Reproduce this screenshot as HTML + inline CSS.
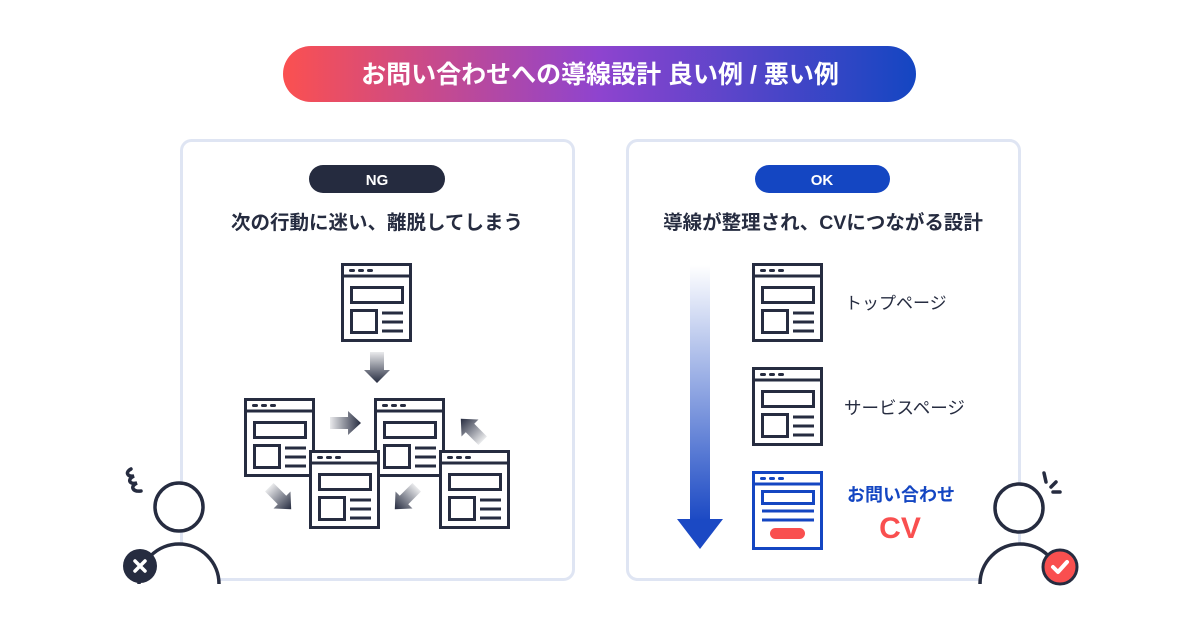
<!DOCTYPE html>
<html><head><meta charset="utf-8"><style>
html,body{margin:0;padding:0;background:#fff;}
svg{display:block;}
text{font-family:"Liberation Sans","Noto Sans CJK JP",sans-serif;}
</style></head><body>
<svg width="1200" height="630" viewBox="0 0 1200 630" xmlns="http://www.w3.org/2000/svg">
<defs>
<linearGradient id="tg" x1="0" x2="1" y1="0" y2="0">
<stop offset="0" stop-color="#fb5050"/><stop offset="0.5" stop-color="#8e44cf"/><stop offset="1" stop-color="#1446c2"/>
</linearGradient>
<linearGradient id="va" x1="0" x2="0" y1="0" y2="1">
<stop offset="0" stop-color="#1b49c4" stop-opacity="0"/><stop offset="1" stop-color="#1b49c4"/>
</linearGradient>
<linearGradient id="gd" x1="0" x2="0" y1="0" y2="1"><stop offset="0" stop-color="#262c40" stop-opacity="0.1"/><stop offset="1" stop-color="#262c40"/></linearGradient>
<linearGradient id="gr" x1="0" x2="1" y1="0" y2="0"><stop offset="0" stop-color="#262c40" stop-opacity="0.1"/><stop offset="1" stop-color="#262c40"/></linearGradient>
<g id="ic">
<rect x="1.5" y="1.5" width="68" height="76" fill="#fff" stroke="#262c40" stroke-width="3"/>
<line x1="1.5" y1="13" x2="69.5" y2="13" stroke="#262c40" stroke-width="3"/>
<g fill="#262c40"><rect x="8" y="6" width="6" height="3" rx="1.5"/><rect x="17" y="6" width="6" height="3" rx="1.5"/><rect x="26" y="6" width="6" height="3" rx="1.5"/></g>
<rect x="10.5" y="24.5" width="51" height="15" fill="none" stroke="#262c40" stroke-width="3"/>
<rect x="10.5" y="47.5" width="25" height="22" fill="none" stroke="#262c40" stroke-width="3"/>
<g stroke="#262c40" stroke-width="3"><line x1="41" y1="50" x2="62" y2="50"/><line x1="41" y1="59" x2="62" y2="59"/><line x1="41" y1="68" x2="62" y2="68"/></g>
</g>
</defs>

<rect x="283" y="46" width="633" height="56" rx="28" fill="url(#tg)"/>
<text x="600" y="83" text-anchor="middle" font-size="25" font-weight="bold" fill="#fff">お問い合わせへの導線設計 良い例 / 悪い例</text>

<rect x="181.5" y="140.5" width="392" height="439" rx="10" fill="#fff" stroke="#dfe5f3" stroke-width="3"/>
<rect x="627.5" y="140.5" width="392" height="439" rx="10" fill="#fff" stroke="#dfe5f3" stroke-width="3"/>

<rect x="309" y="165" width="136" height="28" rx="14" fill="#252b3f"/>
<text x="377" y="185" text-anchor="middle" font-size="15" font-weight="bold" fill="#fff">NG</text>
<rect x="755" y="165" width="135" height="28" rx="14" fill="#1446c2"/>
<text x="822" y="185" text-anchor="middle" font-size="15" font-weight="bold" fill="#fff">OK</text>

<text x="377" y="229" text-anchor="middle" font-size="19.5" font-weight="bold" fill="#262c40">次の行動に迷い、離脱してしまう</text>
<text x="823" y="229" text-anchor="middle" font-size="19.5" font-weight="bold" fill="#262c40">導線が整理され、CVにつながる設計</text>

<use href="#ic" x="341" y="263"/>
<polygon points="370,352 384,352 384,370 390,370 377,383 364,370 370,370" fill="url(#gd)"/>
<use href="#ic" x="244" y="398"/>
<use href="#ic" x="374" y="398"/>
<polygon points="330,417 348,417 348,411 361,423 348,435 348,429 330,429" fill="url(#gr)"/>
<use href="#ic" x="309" y="450"/>
<use href="#ic" x="439" y="450"/>
<g transform="translate(282,500) rotate(45)"><polygon points="-18,-6 0,-6 0,-12 13,0 0,12 0,6 -18,6" fill="url(#gr)"/></g>
<g transform="translate(404,500) rotate(135)"><polygon points="-18,-6 0,-6 0,-12 13,0 0,12 0,6 -18,6" fill="url(#gr)"/></g>
<g transform="translate(470,428) rotate(-135)"><polygon points="-18,-6 0,-6 0,-12 13,0 0,12 0,6 -18,6" fill="url(#gr)"/></g>

<rect x="690" y="265" width="20" height="256" fill="url(#va)"/>
<polygon points="677,519 723,519 700,549" fill="#1b49c4"/>
<use href="#ic" x="752" y="263"/>
<use href="#ic" x="752" y="367"/>
<g transform="translate(752,471)">
<rect x="1.5" y="1.5" width="68" height="76" fill="#fff" stroke="#1446c2" stroke-width="3"/>
<line x1="1.5" y1="13" x2="69.5" y2="13" stroke="#1446c2" stroke-width="3"/>
<g fill="#1446c2"><rect x="8" y="6" width="6" height="3" rx="1.5"/><rect x="17" y="6" width="6" height="3" rx="1.5"/><rect x="26" y="6" width="6" height="3" rx="1.5"/></g>
<rect x="10.5" y="20.5" width="51" height="12" fill="none" stroke="#1446c2" stroke-width="3"/>
<line x1="10" y1="40" x2="62" y2="40" stroke="#1446c2" stroke-width="3"/>
<line x1="10" y1="49" x2="62" y2="49" stroke="#1446c2" stroke-width="3"/>
<rect x="18" y="57" width="35" height="11" rx="5.5" fill="#f94f4f"/>
</g>
<text x="845" y="309" font-size="17" fill="#262c40">トップページ</text>
<text x="844" y="414" font-size="17.5" fill="#262c40">サービスページ</text>
<text x="901" y="501" text-anchor="middle" font-size="18" font-weight="bold" fill="#1446c2">お問い合わせ</text>
<text x="900" y="538" text-anchor="middle" font-size="30" font-weight="bold" fill="#f94f4f">CV</text>

<g stroke="#262c40" stroke-width="3.5" fill="#fff">
<circle cx="179" cy="507" r="24"/>
<path d="M139,584 A40,40 0 0 1 219,584"/>
</g>
<path d="M131,469 c-6,3 -4,8 3,7 c-7,3 -5,9 3,7 c-7,3 -5,9 4,8" fill="none" stroke="#262c40" stroke-width="3.5" stroke-linecap="round"/>
<circle cx="140" cy="566" r="17" fill="#262c40"/>
<g stroke="#fff" stroke-width="3.5" stroke-linecap="round"><line x1="135" y1="561" x2="145" y2="571"/><line x1="145" y1="561" x2="135" y2="571"/></g>

<g stroke="#262c40" stroke-width="3.5" fill="#fff">
<circle cx="1019" cy="508" r="24"/>
<path d="M980,584 A40,40 0 0 1 1060,584"/>
</g>
<g stroke="#262c40" stroke-width="3.5" stroke-linecap="round"><line x1="1044" y1="473" x2="1046" y2="482"/><line x1="1051" y1="487" x2="1056" y2="482"/><line x1="1053" y1="492" x2="1060" y2="492"/></g>
<circle cx="1060" cy="567" r="17" fill="#f94f4f" stroke="#262c40" stroke-width="3"/>
<polyline points="1053,567 1058,572 1067,562" fill="none" stroke="#fff" stroke-width="4" stroke-linecap="round" stroke-linejoin="round"/>
</svg>
</body></html>
